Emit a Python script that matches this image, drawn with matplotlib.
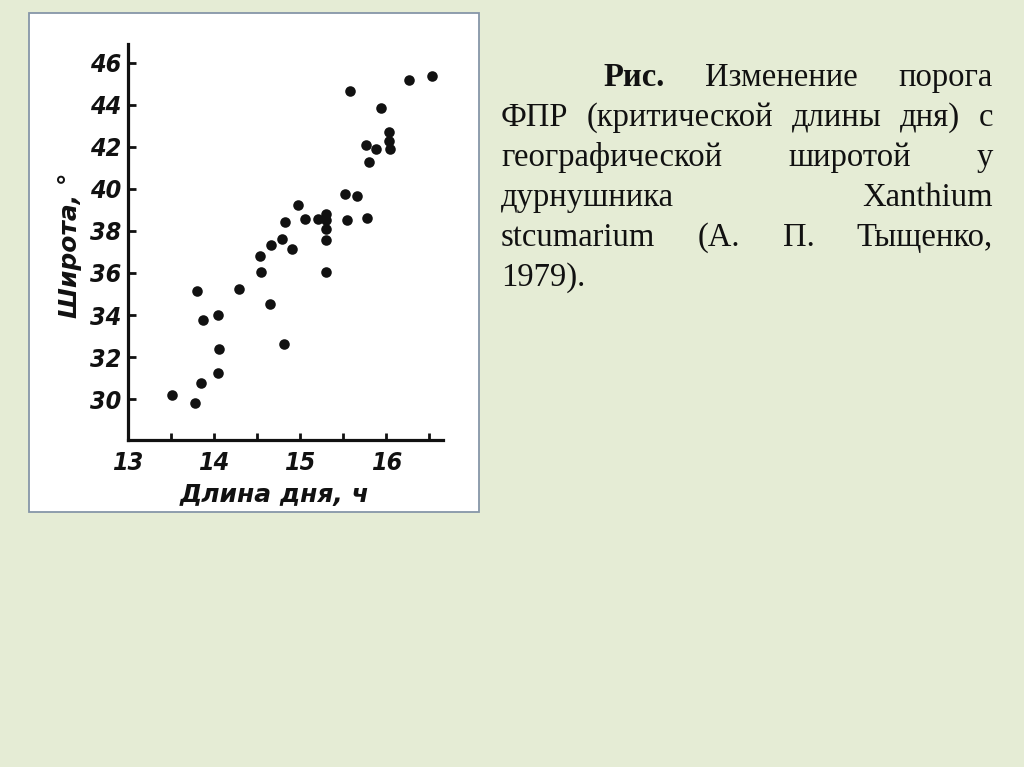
import numpy as np
import matplotlib
matplotlib.use('Agg')
from matplotlib import pyplot as plt
from matplotlib.patches import Rectangle

# Day length (h) and latitude (deg)
day_length = [16.53, 16.26, 15.58, 15.94, 16.03, 16.03, 16.04, 15.76, 15.88, 15.80,
              15.52, 15.66, 15.55, 15.78, 14.98, 15.06, 15.21, 15.30, 15.30, 15.30,
              15.30, 14.82, 14.79, 14.90, 14.66, 14.53, 14.54, 15.30, 14.29, 13.80,
              14.65, 13.87, 14.05, 14.06, 14.81, 14.04, 13.85, 13.51, 13.78]
latitude = [45.4, 45.2, 44.65, 43.85, 42.7, 42.3, 41.9, 42.1, 41.9, 41.3,
            39.75, 39.65, 38.5, 38.6, 39.25, 38.55, 38.55, 38.8, 38.5, 38.1,
            37.55, 38.45, 37.6, 37.15, 37.35, 36.8, 36.05, 36.05, 35.25, 35.15,
            34.5, 33.75, 34.0, 32.4, 32.6, 31.25, 30.75, 30.2, 29.8]

x_ticks = [13, 14, 15, 16]
x_minor = [13.5, 14.5, 15.5, 16.5]
y_ticks = [30, 32, 34, 36, 38, 40, 42, 44, 46]
x_label = 'Длина дня, ч'
y_label = 'Широта, °'

caption_lines = ['Рис. Изменение порога',
                 'ФПР (критической длины дня) с',
                 'географической широтой у',
                 'дурнушника Xanthium',
                 'stcumarium (А. П. Тыщенко,',
                 '1979).']

W, H = 1024, 767
bg = '#e5ecd5'
ink = '#111111'

fig = plt.figure(figsize=(W / 100, H / 100), dpi=100, facecolor=bg)

# white card behind the scanned chart
fig.patches.append(Rectangle((29 / W, 1 - 512 / H), 450 / W, 499 / H, transform=fig.transFigure,
                             facecolor='white', edgecolor='#8696a8', linewidth=1.3, zorder=-1))

ax = fig.add_axes([128 / W, 1 - 440 / H, 315 / W, 396 / H])
ax.set_facecolor('none')
ax.plot(day_length, latitude, 'o', color=ink, markersize=7.6, markeredgewidth=0, clip_on=False)

ax.set_xlim(13.0, 16.66)
ax.set_ylim(28.05, 46.9)
for side in ['top', 'right']:
    ax.spines[side].set_visible(False)
for side in ['left', 'bottom']:
    ax.spines[side].set_linewidth(2.3)
    ax.spines[side].set_color(ink)

tick_font = dict(family='DejaVu Sans', style='italic', weight='bold', stretch='condensed', size=18)
ax.set_xticks(x_ticks)
ax.set_xticks(x_minor, minor=True)
ax.set_yticks(y_ticks)
ax.set_xticklabels([str(v) for v in x_ticks], fontdict=tick_font, color=ink)
ax.set_yticklabels([str(v) for v in y_ticks], fontdict=tick_font, color=ink)
ax.tick_params(axis='x', which='both', direction='in', length=5, width=2, color=ink, pad=8)
ax.tick_params(axis='y', which='both', direction='in', length=6, width=2, color=ink, pad=5)

ax.text((275 - 128) / 315, (440 - 495) / 396, x_label, transform=ax.transAxes, ha='center', va='center',
        family='DejaVu Sans', style='italic', weight='bold', size=18, color=ink)
ax.text((70 - 128) / 315, (440 - 245) / 396, y_label, transform=ax.transAxes, ha='center', va='center',
        rotation=90, family='DejaVu Sans', style='italic', weight='bold', size=18, color=ink)

# justified caption on the right
renderer = fig.canvas.get_renderer()
right_px = 993
for i, line in enumerate(caption_lines):
    words = line.split()
    y = 1 - (86 + 40 * i) / H
    left_px = 603 if i == 0 else 501
    texts = []
    for j, w in enumerate(words):
        t = fig.text(0, y, w, family='Liberation Serif', size=23.5, color=ink, va='baseline',
                     weight='bold' if (i == 0 and j == 0) else 'normal')
        texts.append(t)
    widths = [t.get_window_extent(renderer).width for t in texts]
    if i < len(caption_lines) - 1 and len(words) > 1:
        gap = (right_px - left_px - sum(widths)) / (len(words) - 1)
    else:
        gap = 8
    x = left_px
    for t, wd in zip(texts, widths):
        t.set_x(x / W)
        x += wd + gap

plt.savefig('out.png', dpi=100, facecolor=bg)
